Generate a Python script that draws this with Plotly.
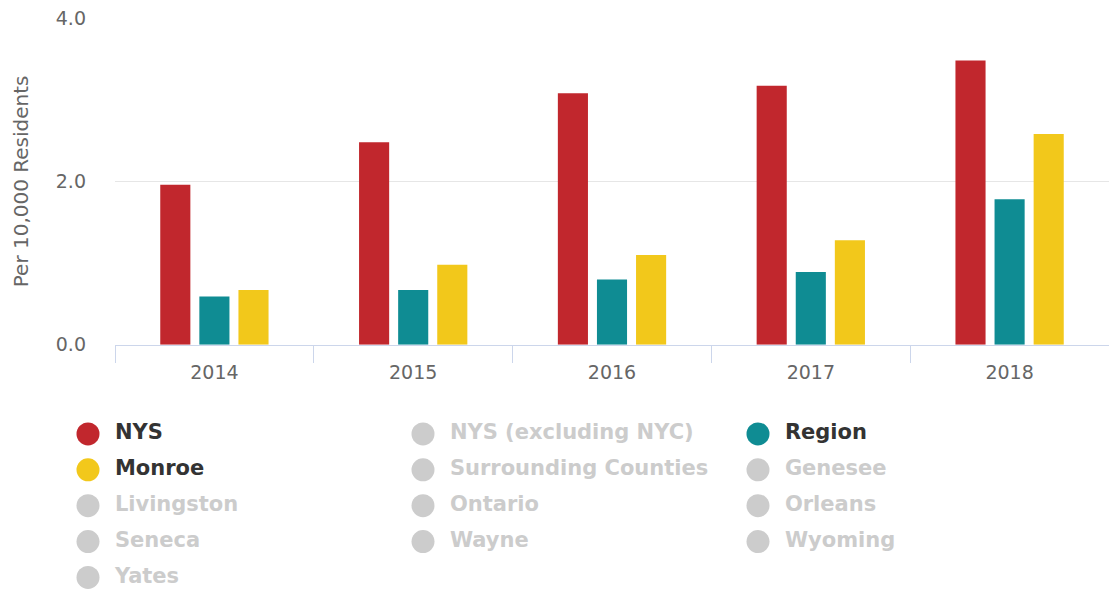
import plotly.graph_objects as go

years = ["2014", "2015", "2016", "2017", "2018"]
nys = [1.96, 2.48, 3.08, 3.17, 3.48]
region = [0.59, 0.67, 0.80, 0.89, 1.78]
monroe = [0.67, 0.98, 1.10, 1.28, 2.58]

shown_series = [("NYS", nys, "#c1272d"), ("Region", region, "#0f8c93"), ("Monroe", monroe, "#f2c81b")]

legend_names = ["NYS", "NYS (excluding NYC)", "Region",
                "Monroe", "Surrounding Counties", "Genesee",
                "Livingston", "Ontario", "Orleans",
                "Seneca", "Wayne", "Wyoming",
                "Yates"]
active_colors = {"NYS": "#c1272d", "Region": "#0f8c93", "Monroe": "#f2c81b"}

FONT = "DejaVu Sans"
W, H = 1109, 604
PLOT_TOP, PLOT_BOTTOM, PLOT_LEFT = 18, 351, 115

fig = go.Figure()
for name, vals, col in shown_series:
    fig.add_trace(go.Bar(x=years, y=vals, name=name, marker=dict(color=col, line=dict(width=0)),
                         showlegend=False, xaxis="x", yaxis="y"))

# legend drawn as a scatter on a hidden pixel-mapped axis
ncol = 3
col_x0, col_dx = 88, 335
row_y0, row_dy = 441.7, 36.6
lx, ly, lcol, ltcol = [], [], [], []
for i, n in enumerate(legend_names):
    r, c = divmod(i, ncol)
    lx.append(col_x0 + c * col_dx)
    ly.append(row_y0 + r * row_dy)
    lcol.append(active_colors.get(n, "#cccccc"))
    ltcol.append("#333333" if n in active_colors else "#cccccc")

fig.add_trace(go.Scatter(x=lx, y=ly, mode="markers+text", text=[" \u2009" + n for n in legend_names],
                         textposition="middle right",
                         textfont=dict(family=FONT, size=21, color=ltcol, weight="bold"),
                         marker=dict(size=23, color=lcol, line=dict(width=0)),
                         showlegend=False, hoverinfo="skip", xaxis="x2", yaxis="y2", cliponaxis=False))

main_bottom = (H - PLOT_BOTTOM) / (H - PLOT_TOP)
fig.update_layout(
    width=W, height=H,
    margin=dict(l=0, r=0, t=PLOT_TOP, b=0),
    paper_bgcolor="white", plot_bgcolor="white",
    font=dict(family=FONT, color="#666666", size=20),
    bargap=0.41, bargroupgap=0.23,
    showlegend=False,
    xaxis=dict(domain=[PLOT_LEFT / W, 1], type="category", showline=True, linecolor="#ccd6eb",
               linewidth=1, ticks="outside", tickson="boundaries", ticklen=17, tickcolor="#ccd6eb",
               ticklabelstandoff=10,
               showgrid=False, tickfont=dict(size=19, color="#666666"), anchor="y"),
    yaxis=dict(domain=[main_bottom, 1], range=[0, 4], tickvals=[0, 2, 4], tickformat=".1f",
               gridcolor="#e6e6e6", gridwidth=1, zeroline=False, showline=False,
               tickfont=dict(size=19, color="#666666"), ticklabelstandoff=28,
               title=dict(text="Per 10,000 Residents", font=dict(size=20, color="#666666"), standoff=21),
               anchor="x"),
    xaxis2=dict(domain=[0, 1], range=[0, W], visible=False, fixedrange=True, anchor="y2"),
    yaxis2=dict(domain=[0, main_bottom * 0.999], range=[H, PLOT_BOTTOM], visible=False,
                fixedrange=True, anchor="x2"),
)

fig.write_html(
    "out.html",
    config={"displayModeBar": False},
    post_script="document.body.style.margin='0';",
)
